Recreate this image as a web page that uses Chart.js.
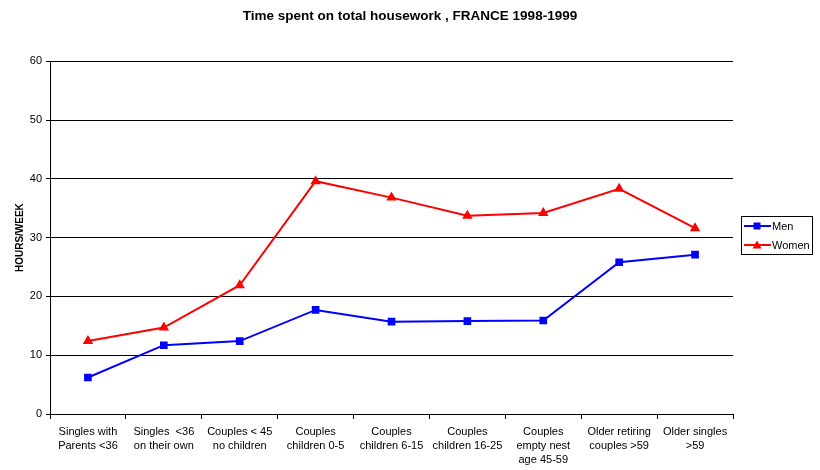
<!DOCTYPE html>
<html>
<head>
<meta charset="utf-8">
<script src="https://cdn.jsdelivr.net/npm/chart.js@4"></script>
<style>
  html, body { margin: 0; padding: 0; background: #fff; }
  #wrap { width: 820px; height: 470px; }
</style>
</head>
<body>
<div id="wrap"><canvas id="chart" width="820" height="470"></canvas></div>
<script>
const categories = [
  ["Singles with", "Parents <36"],
  ["Singles  <36", "on their own"],
  ["Couples < 45", "no children"],
  ["Couples", "children 0-5"],
  ["Couples", "children 6-15"],
  ["Couples", "children 16-25"],
  ["Couples", "empty nest", "age 45-59"],
  ["Older retiring", "couples >59"],
  ["Older singles", ">59"]
];
const menHours = [6.2, 11.7, 12.4, 17.7, 15.7, 15.8, 15.9, 25.8, 27.1];
const womenHours = [12.4, 14.7, 21.9, 39.6, 36.8, 33.7, 34.2, 38.3, 31.6];

const font = "'Liberation Sans', Arial, sans-serif";

// legend drawn as a boxed list with line + marker, like the original
const boxedLegend = {
  id: "boxedLegend",
  afterDraw(chart) {
    const ctx = chart.ctx;
    const x = 741, y = 216, w = 71, h = 38;
    ctx.save();
    ctx.strokeStyle = "#000";
    ctx.lineWidth = 1;
    ctx.strokeRect(x + 0.5, y + 0.5, w, h);
    chart.data.datasets.forEach((ds, i) => {
      const cy = y + 10 + i * 19;
      ctx.strokeStyle = ds.borderColor;
      ctx.lineWidth = 2;
      ctx.beginPath();
      ctx.moveTo(x + 3, cy);
      ctx.lineTo(x + 30, cy);
      ctx.stroke();
      ctx.fillStyle = ds.borderColor;
      const mx = x + 16;
      if (ds.pointStyle === "rect") {
        ctx.fillRect(mx - 3.5, cy - 3.5, 7, 7);
      } else {
        ctx.beginPath();
        ctx.moveTo(mx, cy - 4.5);
        ctx.lineTo(mx + 4.5, cy + 3.5);
        ctx.lineTo(mx - 4.5, cy + 3.5);
        ctx.closePath();
        ctx.fill();
      }
      ctx.fillStyle = "#000";
      ctx.font = "11px " + font;
      ctx.textBaseline = "middle";
      ctx.fillText(ds.label, x + 31, cy + 1);
    });
    ctx.restore();
  }
};

new Chart(document.getElementById("chart").getContext("2d"), {
  type: "line",
  data: {
    labels: categories,
    datasets: [
      {
        label: "Men",
        data: menHours,
        borderColor: "#0000ff",
        backgroundColor: "#0000ff",
        borderWidth: 2,
        pointStyle: "rect",
        pointRadius: 4,
        lineTension: 0,
        fill: false
      },
      {
        label: "Women",
        data: womenHours,
        borderColor: "#ff0000",
        backgroundColor: "#ff0000",
        borderWidth: 2,
        pointStyle: "triangle",
        pointRadius: 4,
        lineTension: 0,
        fill: false
      }
    ]
  },
  options: {
    responsive: false,
    animation: false,
    layout: { padding: 0 },
    plugins: {
      legend: { display: false },
      tooltip: { enabled: false },
      title: {
        display: true,
        text: "Time spent on total housework , FRANCE 1998-1999",
        color: "#000",
        font: { family: font, size: 13.5, weight: "bold" },
        padding: { top: 8, bottom: 37 }
      }
    },
    scales: {
      x: {
        offset: true,
        grid: {
          display: true,
          offset: true,
          drawOnChartArea: false,
          drawTicks: true,
          tickLength: 5,
          color: "#000"
        },
        border: { color: "#000", width: 1 },
        ticks: {
          color: "#000",
          font: { family: font, size: 11, lineHeight: 1.27 },
          maxRotation: 0,
          autoSkip: false,
          padding: 6
        },
        afterFit(scale) { scale.height = 56; }
      },
      y: {
        min: 0,
        max: 60,
        ticks: {
          stepSize: 10,
          color: "#000",
          font: { family: font, size: 11 },
          padding: 4
        },
        grid: {
          color: "#000",
          lineWidth: 1,
          tickLength: 4
        },
        border: { color: "#000", width: 1 },
        title: {
          display: true,
          text: "HOURS/WEEK",
          color: "#000",
          font: { family: font, size: 10, weight: "bold" },
          padding: { top: 14, bottom: 0 }
        },
        afterFit(scale) { scale.width = 50; }
      },
      // empty right-hand axis that keeps room for the legend
      legendSpace: {
        position: "right",
        display: true,
        grid: { display: false },
        border: { display: false },
        ticks: { display: false },
        afterFit(scale) { scale.width = 87; }
      }
    }
  },
  plugins: [boxedLegend]
});
</script>
</body>
</html>
